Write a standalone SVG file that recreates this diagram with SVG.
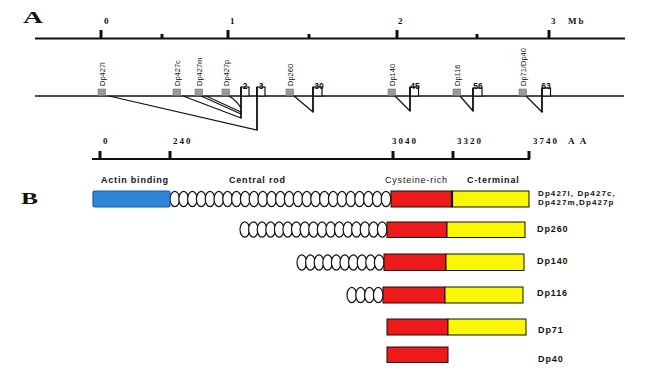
<svg xmlns="http://www.w3.org/2000/svg" xmlns:xlink="http://www.w3.org/1999/xlink" width="654" height="379" viewBox="0 0 654 379">
<style>
.big{font-family:"Liberation Serif",serif;font-weight:bold;font-size:17px;fill:#111}
.ax{font-family:"Liberation Serif",serif;font-weight:bold;font-size:9px;letter-spacing:2px;fill:#111}
.pl{font-family:"Liberation Sans",Arial,sans-serif;font-size:7.5px;fill:#111}
.ex{font-family:"Liberation Sans",Arial,sans-serif;font-weight:bold;font-size:8.5px;fill:#111}
.dom{font-family:"Liberation Sans",Arial,sans-serif;font-weight:bold;font-size:9px;letter-spacing:0.8px;fill:#111}
.row{font-family:"Liberation Sans",Arial,sans-serif;font-weight:bold;font-size:9px;letter-spacing:0.9px;fill:#111}
.row1{font-family:"Liberation Sans",Arial,sans-serif;font-weight:bold;font-size:8px;letter-spacing:1.1px;fill:#111}
.axl{stroke:#111;stroke-width:2.2;fill:none}
.tk{stroke:#111;stroke-width:3;fill:none}
.gl{stroke:#111;stroke-width:1.4;fill:none}
.ln{stroke:#111;stroke-width:1.2;fill:none}
.vl{stroke:#111;stroke-width:1.8;fill:none}
.prom{fill:#9a9a9a;stroke:#777;stroke-width:0.6}
.exb{fill:#fff;stroke:#111;stroke-width:1.2}
.coil{fill:#fff;stroke:#111;stroke-width:1.2}
.blue{fill:#2f86d8;stroke:#1b5fa6;stroke-width:1.2}
.red{fill:#ee1a1a;stroke:#111;stroke-width:1}
.yel{fill:#fbf700;stroke:#111;stroke-width:1}
</style>
<defs>
<ellipse id="c" cx="0" cy="0" rx="4.8" ry="7.6" class="coil"/>
</defs>
<rect width="654" height="379" fill="#fff"/>

<!-- Panel A -->
<text class="big" x="23" y="23" textLength="20" lengthAdjust="spacingAndGlyphs">A</text>
<g id="mb-axis">
<line class="axl" x1="35" y1="38.5" x2="625" y2="38.5"/>
<line class="tk" x1="101" y1="30" x2="101" y2="38"/>
<line class="tk" x1="162" y1="34" x2="162" y2="38"/>
<line class="tk" x1="228" y1="30" x2="228" y2="38"/>
<line class="tk" x1="309" y1="34" x2="309" y2="38"/>
<line class="tk" x1="397" y1="30" x2="397" y2="38"/>
<line class="tk" x1="477" y1="34" x2="477" y2="38"/>
<line class="tk" x1="549" y1="30" x2="549" y2="38"/>
<text class="ax" x="104" y="24">0</text>
<text class="ax" x="230" y="24">1</text>
<text class="ax" x="398" y="24">2</text>
<text class="ax" x="551" y="24">3</text>
<text class="ax" x="568" y="24">Mb</text>
</g>

<g id="gene-line">
<line class="gl" x1="35" y1="96" x2="624" y2="96"/>
</g>

<g id="connectors">
<line class="ln" x1="109" y1="96" x2="257" y2="130"/>
<line class="ln" x1="183" y1="96" x2="241" y2="118"/>
<line class="ln" x1="201" y1="96" x2="241" y2="114"/>
<line class="ln" x1="206" y1="96" x2="241" y2="112"/>
<path class="ln" d="M229 96 Q236 100 241 108"/>
<line class="ln" x1="294" y1="96" x2="313" y2="112"/>
<line class="ln" x1="395" y1="96" x2="410" y2="111"/>
<line class="ln" x1="460" y1="96" x2="473" y2="111"/>
<line class="ln" x1="526" y1="96" x2="542" y2="112"/>
</g>

<g id="dp427l"><rect class="prom" x="98" y="89" width="7.5" height="6.5"/><text class="pl" transform="translate(104.5 86) rotate(-90)">Dp427l</text></g>
<g id="dp427c"><rect class="prom" x="173" y="89" width="7.5" height="6.5"/><text class="pl" transform="translate(179.5 86) rotate(-90)">Dp427c</text></g>
<g id="dp427m"><rect class="prom" x="195" y="89" width="7.5" height="6.5"/><text class="pl" transform="translate(201.5 86) rotate(-90)">Dp427m</text></g>
<g id="dp427p"><rect class="prom" x="222" y="89" width="7.5" height="6.5"/><text class="pl" transform="translate(228.5 86) rotate(-90)">Dp427p</text></g>
<g id="dp260"><rect class="prom" x="286" y="89" width="7.5" height="6.5"/><text class="pl" transform="translate(292.5 86) rotate(-90)">Dp260</text></g>
<g id="dp140"><rect class="prom" x="388" y="89" width="7.5" height="6.5"/><text class="pl" transform="translate(394.5 86) rotate(-90)">Dp140</text></g>
<g id="dp116"><rect class="prom" x="453" y="89" width="7.5" height="6.5"/><text class="pl" transform="translate(459.5 86) rotate(-90)">Dp116</text></g>
<g id="dp71-dp40"><rect class="prom" x="519" y="89" width="7.5" height="6.5"/><text class="pl" transform="translate(525.5 86) rotate(-90)">Dp71/Dp40</text></g>

<g id="exon2"><rect class="exb" x="241" y="87" width="8" height="9"/><line class="vl" x1="241" y1="87" x2="241" y2="118.5"/><text class="ex" x="245" y="89" text-anchor="middle">2</text></g>
<g id="exon3"><rect class="exb" x="257" y="87" width="8" height="9"/><line class="vl" x1="257" y1="87" x2="257" y2="130.5"/><text class="ex" x="261" y="89" text-anchor="middle">3</text></g>
<g id="exon30"><rect class="exb" x="313" y="87" width="9" height="9"/><line class="vl" x1="313" y1="87" x2="313" y2="112.5"/><text class="ex" x="319" y="89" text-anchor="middle">30</text></g>
<g id="exon45"><rect class="exb" x="410" y="87" width="8.5" height="9"/><line class="vl" x1="410" y1="87" x2="410" y2="111.5"/><text class="ex" x="415" y="89" text-anchor="middle">45</text></g>
<g id="exon56"><rect class="exb" x="473" y="88" width="9" height="8"/><line class="vl" x1="473" y1="88" x2="473" y2="111.5"/><text class="ex" x="478" y="89" text-anchor="middle">56</text></g>
<g id="exon63"><rect class="exb" x="542" y="88" width="8.5" height="8"/><line class="vl" x1="542" y1="88" x2="542" y2="112.5"/><text class="ex" x="546" y="89" text-anchor="middle">63</text></g>

<g id="aa-axis">
<line class="axl" x1="92" y1="159" x2="530" y2="159"/>
<line class="tk" x1="100" y1="151" x2="100" y2="159"/>
<line class="tk" x1="170" y1="151" x2="170" y2="159"/>
<line class="tk" x1="393" y1="151" x2="393" y2="159"/>
<line class="tk" x1="453" y1="151" x2="453" y2="159"/>
<line class="tk" x1="529" y1="151" x2="529" y2="159"/>
<text class="ax" x="103" y="144">0</text>
<text class="ax" x="173" y="144">240</text>
<text class="ax" x="392" y="144">3040</text>
<text class="ax" x="457" y="144">3320</text>
<text class="ax" x="533" y="144">3740</text>
<text class="ax" x="568" y="144">A A</text>
</g>

<!-- Panel B -->
<text class="big" x="21" y="204" textLength="17" lengthAdjust="spacingAndGlyphs">B</text>
<g id="domain-labels">
<text class="dom" x="101" y="183">Actin binding</text>
<text class="dom" x="229" y="183">Central rod</text>
<text class="dom" x="385" y="183" style="font-weight:normal">Cysteine-rich</text>
<text class="dom" x="467" y="183">C-terminal</text>
</g>

<g id="row-dp427">
<use xlink:href="#c" x="174.8" y="199"/><use xlink:href="#c" x="183.6" y="199"/><use xlink:href="#c" x="192.4" y="199"/><use xlink:href="#c" x="201.2" y="199"/><use xlink:href="#c" x="210" y="199"/><use xlink:href="#c" x="218.8" y="199"/><use xlink:href="#c" x="227.6" y="199"/><use xlink:href="#c" x="236.4" y="199"/><use xlink:href="#c" x="245.2" y="199"/><use xlink:href="#c" x="254" y="199"/><use xlink:href="#c" x="262.8" y="199"/><use xlink:href="#c" x="271.6" y="199"/><use xlink:href="#c" x="280.4" y="199"/><use xlink:href="#c" x="289.2" y="199"/><use xlink:href="#c" x="298" y="199"/><use xlink:href="#c" x="306.8" y="199"/><use xlink:href="#c" x="315.6" y="199"/><use xlink:href="#c" x="324.4" y="199"/><use xlink:href="#c" x="333.2" y="199"/><use xlink:href="#c" x="342" y="199"/><use xlink:href="#c" x="350.8" y="199"/><use xlink:href="#c" x="359.6" y="199"/><use xlink:href="#c" x="368.4" y="199"/><use xlink:href="#c" x="377.2" y="199"/><use xlink:href="#c" x="386" y="199"/>
<rect class="blue" x="93" y="191" width="77" height="16" rx="1.5"/>
<rect class="red" x="391" y="191" width="61" height="16"/>
<rect class="yel" x="452" y="191" width="77" height="16"/>
<line x1="452" y1="191" x2="452" y2="207" stroke="#111" stroke-width="2.2"/>
<text class="row1" x="538" y="195.5">Dp427l, Dp427c,</text>
<text class="row1" x="538" y="205">Dp427m,Dp427p</text>
</g>

<g id="row-dp260">
<use xlink:href="#c" x="244.8" y="229.5"/><use xlink:href="#c" x="253.4" y="229.5"/><use xlink:href="#c" x="262" y="229.5"/><use xlink:href="#c" x="270.6" y="229.5"/><use xlink:href="#c" x="279.2" y="229.5"/><use xlink:href="#c" x="287.7" y="229.5"/><use xlink:href="#c" x="296.3" y="229.5"/><use xlink:href="#c" x="304.9" y="229.5"/><use xlink:href="#c" x="313.5" y="229.5"/><use xlink:href="#c" x="322.1" y="229.5"/><use xlink:href="#c" x="330.7" y="229.5"/><use xlink:href="#c" x="339.3" y="229.5"/><use xlink:href="#c" x="347.9" y="229.5"/><use xlink:href="#c" x="356.4" y="229.5"/><use xlink:href="#c" x="365" y="229.5"/><use xlink:href="#c" x="373.6" y="229.5"/><use xlink:href="#c" x="382.2" y="229.5"/>
<rect class="red" x="387" y="222" width="60" height="15.5"/>
<rect class="yel" x="447" y="222" width="78" height="15.5"/>
<text class="row" x="537" y="232">Dp260</text>
</g>

<g id="row-dp140">
<use xlink:href="#c" x="301.8" y="262.5"/><use xlink:href="#c" x="310.4" y="262.5"/><use xlink:href="#c" x="319" y="262.5"/><use xlink:href="#c" x="327.6" y="262.5"/><use xlink:href="#c" x="336.2" y="262.5"/><use xlink:href="#c" x="344.8" y="262.5"/><use xlink:href="#c" x="353.4" y="262.5"/><use xlink:href="#c" x="362" y="262.5"/><use xlink:href="#c" x="370.6" y="262.5"/><use xlink:href="#c" x="379.2" y="262.5"/>
<rect class="red" x="384" y="254" width="62" height="16.5"/>
<rect class="yel" x="446" y="254" width="78" height="16.5"/>
<text class="row" x="537" y="263.5">Dp140</text>
</g>

<g id="row-dp116">
<use xlink:href="#c" x="351.8" y="295"/><use xlink:href="#c" x="360.6" y="295"/><use xlink:href="#c" x="369.4" y="295"/><use xlink:href="#c" x="378.2" y="295"/>
<rect class="red" x="383" y="287" width="62" height="16"/>
<rect class="yel" x="445" y="287" width="78" height="16"/>
<text class="row" x="537" y="296">Dp116</text>
</g>

<g id="row-dp71">
<rect class="red" x="387" y="319" width="61" height="16"/>
<rect class="yel" x="448" y="319" width="78" height="16"/>
<text class="row" x="538" y="333">Dp71</text>
</g>

<g id="row-dp40">
<rect class="red" x="387" y="347" width="61" height="15.5"/>
<text class="row" x="538" y="362">Dp40</text>
</g>
</svg>
